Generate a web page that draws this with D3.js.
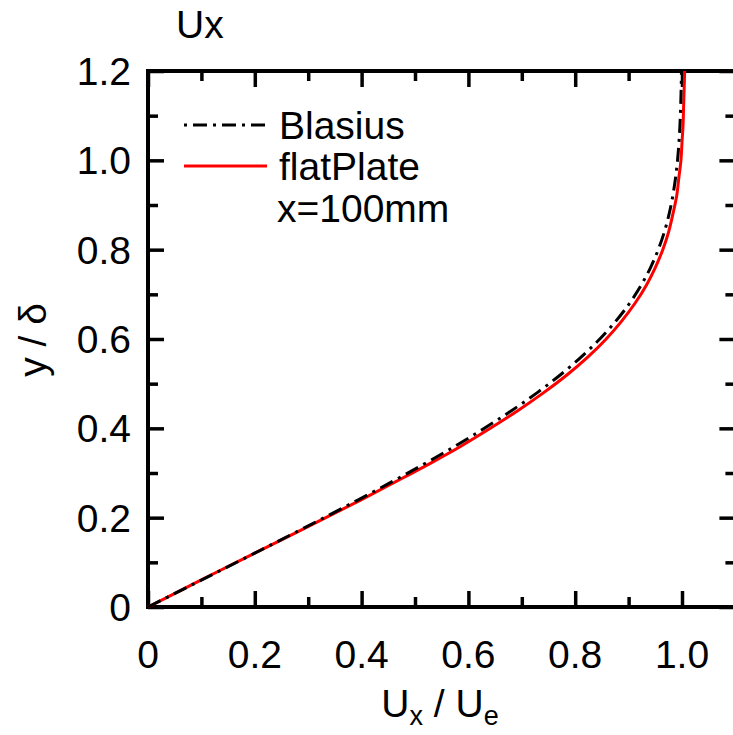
<!DOCTYPE html>
<html>
<head>
<meta charset="utf-8">
<script src="https://cdn.jsdelivr.net/npm/d3@7"></script>
<style>
  body { margin: 0; background: #fff; }
  text { font-family: "Liberation Sans", Arial, sans-serif; fill: #000; }
</style>
</head>
<body>
<script>
(function() {

	var width = 733,
		height = 735;

	var margin = {left: 148, top: 71, right: 0, bottom: 128};

	// data: y / delta against Ux / Ue
	var yDelta = [0, 0.04, 0.08, 0.12, 0.16, 0.2, 0.24, 0.28, 0.32, 0.36, 0.4, 0.44, 0.48, 0.52,
		0.56, 0.6, 0.64, 0.68, 0.72, 0.76, 0.8, 0.84, 0.88, 0.92, 0.96, 1.0, 1.04, 1.08, 1.12, 1.16, 1.2];
	var blasius = [0, 0.0664, 0.1328, 0.1989, 0.2647, 0.3298, 0.3938, 0.4563, 0.5168, 0.5748, 0.6298,
		0.6813, 0.7290, 0.7725, 0.8115, 0.8461, 0.8761, 0.9018, 0.9233, 0.9411, 0.9555, 0.9670, 0.9759,
		0.9827, 0.9878, 0.9916, 0.9943, 0.9962, 0.9975, 0.9984, 0.9990];
	var flatPlate = [0, 0.066, 0.132, 0.199, 0.266, 0.333, 0.399, 0.463, 0.526, 0.586, 0.641,
		0.693, 0.741, 0.785, 0.824, 0.858, 0.887, 0.912, 0.933, 0.950, 0.964, 0.975, 0.983,
		0.990, 0.994, 0.998, 1.000, 1.002, 1.003, 1.004, 1.005];

	var xTicks = [0, 0.2, 0.4, 0.6, 0.8, 1.0];
	var xTickLabels = ["0", "0.2", "0.4", "0.6", "0.8", "1.0"];
	var yTicks = [0, 0.2, 0.4, 0.6, 0.8, 1.0, 1.2];
	var yTickLabels = ["0", "0.2", "0.4", "0.6", "0.8", "1.0", "1.2"];
	var minorX = [0.1, 0.3, 0.5, 0.7, 0.9];
	var minorY = [0.1, 0.3, 0.5, 0.7, 0.9, 1.1];

	var seriesNames = ["Blasius", "flatPlate"];

	var x = d3.scaleLinear().domain([0, 1.1]).range([margin.left, margin.left + 587.4]);
	var y = d3.scaleLinear().domain([0, 1.2]).range([607, margin.top]);

	var svg = d3.select("body").append("svg")
		.attr("width", width)
		.attr("height", height);

	var bigTick = 16, smallTick = 10, axisWidth = 4;
	var fontSize = "39px";

	// inward ticks on all four sides
	function addAxis(axis, tx, ty) {
		var g = svg.append("g").attr("transform", "translate(" + tx + "," + ty + ")").call(axis);
		g.selectAll(".domain").remove();
		g.selectAll("line").attr("stroke", "#000").attr("stroke-width", 3.5);
		g.selectAll("text").remove();
		return g;
	}
	addAxis(d3.axisBottom(x).tickValues(xTicks).tickSize(-bigTick), 0, y(0));
	addAxis(d3.axisBottom(x).tickValues(minorX).tickSize(-smallTick), 0, y(0));
	addAxis(d3.axisTop(x).tickValues(xTicks).tickSize(-bigTick), 0, y(1.2));
	addAxis(d3.axisTop(x).tickValues(minorX).tickSize(-smallTick), 0, y(1.2));
	addAxis(d3.axisLeft(y).tickValues(yTicks).tickSize(-bigTick), x(0), 0);
	addAxis(d3.axisLeft(y).tickValues(minorY).tickSize(-smallTick), x(0), 0);
	addAxis(d3.axisRight(y).tickValues(yTicks).tickSize(-bigTick), x(1.1), 0);
	addAxis(d3.axisRight(y).tickValues(minorY).tickSize(-smallTick), x(1.1), 0);

	// frame
	svg.append("rect")
		.attr("x", x(0))
		.attr("y", y(1.2))
		.attr("width", x(1.1) - x(0))
		.attr("height", y(0) - y(1.2))
		.attr("fill", "none")
		.attr("stroke", "#000")
		.attr("stroke-width", axisWidth);

	// tick labels
	svg.selectAll(".xlab")
		.data(xTicks)
		.enter()
		.append("text")
		.attr("x", function(d) { return x(d); })
		.attr("y", 668)
		.attr("text-anchor", "middle")
		.style("font-size", fontSize)
		.text(function(d, i) { return xTickLabels[i]; });

	svg.selectAll(".ylab")
		.data(yTicks)
		.enter()
		.append("text")
		.attr("x", 131)
		.attr("y", function(d) { return y(d) + 14; })
		.attr("text-anchor", "end")
		.style("font-size", fontSize)
		.text(function(d, i) { return yTickLabels[i]; });

	// curves
	var line = d3.line()
		.x(function(d) { return x(d[0]); })
		.y(function(d) { return y(d[1]); })
		.curve(d3.curveMonotoneY);

	svg.append("path")
		.datum(yDelta.map(function(d, i) { return [flatPlate[i], d]; }))
		.attr("d", line)
		.attr("fill", "none")
		.attr("stroke", "#ff0000")
		.attr("stroke-width", 3);

	svg.append("path")
		.datum(yDelta.map(function(d, i) { return [blasius[i], d]; }))
		.attr("d", line)
		.attr("fill", "none")
		.attr("stroke", "#000")
		.attr("stroke-width", 3)
		.attr("stroke-dasharray", "14,6,3,6");

	// legend
	var legendY = [125, 166];
	svg.append("line")
		.attr("x1", 184).attr("x2", 267)
		.attr("y1", legendY[0]).attr("y2", legendY[0])
		.attr("stroke", "#000")
		.attr("stroke-width", 3)
		.attr("stroke-dasharray", "3,6,14,6");
	svg.append("line")
		.attr("x1", 184).attr("x2", 267)
		.attr("y1", legendY[1]).attr("y2", legendY[1])
		.attr("stroke", "#ff0000")
		.attr("stroke-width", 3);

	svg.selectAll(".legtext")
		.data(seriesNames)
		.enter()
		.append("text")
		.attr("x", 279)
		.attr("y", function(d, i) { return legendY[i] + 14; })
		.style("font-size", fontSize)
		.text(function(d) { return d; });

	svg.append("text")
		.attr("x", 277)
		.attr("y", 222)
		.style("font-size", fontSize)
		.text("x=100mm");

	// title
	svg.append("text")
		.attr("x", 176)
		.attr("y", 38)
		.style("font-size", fontSize)
		.text("Ux");

	// axis titles
	var xt = svg.append("text")
		.attr("x", 440)
		.attr("y", 717)
		.attr("text-anchor", "middle")
		.style("font-size", fontSize);
	xt.append("tspan").text("U");
	xt.append("tspan").attr("dy", 8).style("font-size", "27px").text("x");
	xt.append("tspan").attr("dy", -8).text(" / U");
	xt.append("tspan").attr("dy", 8).style("font-size", "27px").text("e");

	svg.append("text")
		.attr("transform", "translate(46,340) rotate(-90)")
		.attr("text-anchor", "middle")
		.style("font-size", fontSize)
		.text("y / δ");

})();
</script>
</body>
</html>
